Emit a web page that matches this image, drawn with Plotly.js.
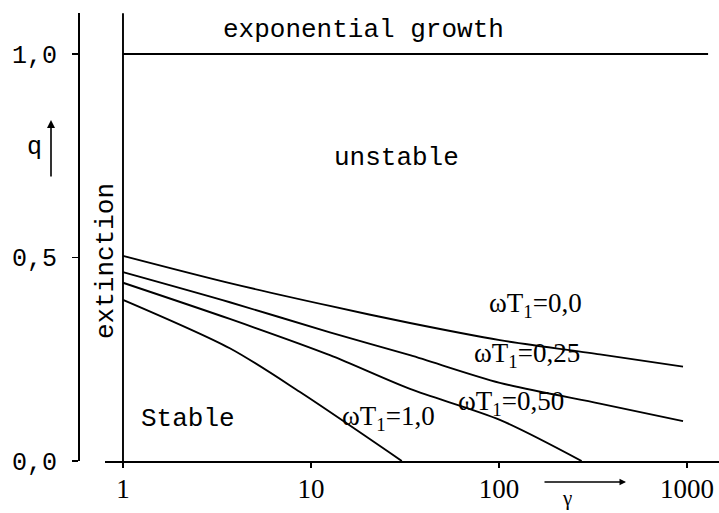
<!DOCTYPE html>
<html>
<head>
<meta charset="utf-8">
<script src="https://cdn.plot.ly/plotly-3.0.1.min.js"></script>
<style>html,body{margin:0;padding:0;background:#fff}#chart{width:719px;height:513px}</style>
</head>
<body>
<div id="chart"></div>
<script>
// ---- data ----
const gammaWT000 = [1, 3.7, 12.6, 33.6, 101, 344, 952];
const qWT000     = [0.504, 0.437, 0.381, 0.339, 0.297, 0.262, 0.232];

const gammaWT025 = [1, 3.7, 12.6, 33.6, 101, 344, 952];
const qWT025     = [0.464, 0.390, 0.316, 0.260, 0.192, 0.141, 0.098];

const gammaWT050 = [1, 3.7, 12.6, 33.6, 101, 275];
const qWT050     = [0.438, 0.349, 0.260, 0.177, 0.101, 0.0];

const gammaWT100 = [1, 3.7, 8.7, 30.4];
const qWT100     = [0.396, 0.277, 0.170, 0.0];

// region boundaries
const growthGamma = [1, 1294];
const growthQ     = [1, 1];
const extinctionGamma = [1, 1];
const extinctionQ     = [0, 1.1];

// ticks
const xTickVals = [1, 10, 100, 1000];
const xTickText = ['1', '10', '100', '1000'];
const yTickVals = [0, 0.5, 1.0];
const yTickText = ['0,0', '0,5', '1,0'];

const curveLabels = ['ωT<sub>1</sub>=0,0', 'ωT<sub>1</sub>=0,25', 'ωT<sub>1</sub>=0,50', 'ωT<sub>1</sub>=1,0'];

// ---- drawing ----
const W = 719, H = 513;
const mk = (x, y, w, smooth) => ({x: x, y: y, type: 'scatter', mode: 'lines',
  line: {color: '#000', width: w || 1.9, shape: smooth ? 'spline' : 'linear', smoothing: 0.8},
  hoverinfo: 'skip', showlegend: false});

const traces = [
  mk(gammaWT000, qWT000, 1.9, true),
  mk(gammaWT025, qWT025, 1.9, true),
  mk(gammaWT050, qWT050, 1.9, true),
  mk(gammaWT100, qWT100, 1.9, true),
  mk(growthGamma, growthQ, 1.9),
  mk(extinctionGamma, extinctionQ, 1.9)
];

function P(px, py) { return {x: px / W, y: (H - py) / H, xref: 'paper', yref: 'paper'}; }
const mono = {family: 'Liberation Mono, monospace', size: 26, color: '#000'};
const serif = {family: 'Liberation Serif, serif', size: 27, color: '#000'};

function txt(px, py, text, font, extra) {
  return Object.assign(P(px, py), {text: text, showarrow: false, font: font,
    xanchor: 'center', yanchor: 'middle'}, extra || {});
}

const annotations = [
  txt(363, 30, 'exponential growth', mono),
  txt(396, 158, 'unstable', mono),
  txt(188, 419, 'Stable', mono),
  txt(106, 261, 'extinction', mono, {textangle: -90}),
  txt(34, 147, 'q', {family: 'Liberation Mono, monospace', size: 25, color: '#000'}),
  txt(535, 305, curveLabels[0], serif),
  txt(527, 355, curveLabels[1], serif),
  txt(511, 403, curveLabels[2], serif),
  txt(389, 418, curveLabels[3], serif),
  txt(567, 498, 'γ', {family: 'Liberation Serif, serif', size: 21, color: '#000'}),
  Object.assign(P(51, 120), {text: '', showarrow: true, ax: 0, ay: 58, arrowhead: 2,
    arrowsize: 1, arrowwidth: 1.6, arrowcolor: '#000', standoff: 0}),
  Object.assign(P(626, 482), {text: '', showarrow: true, ax: -83, ay: 0, arrowhead: 2,
    arrowsize: 1, arrowwidth: 1.3, arrowcolor: '#000', standoff: 0})
];

const layout = {
  width: W, height: H,
  margin: {l: 0, r: 0, t: 0, b: 0},
  paper_bgcolor: '#fff', plot_bgcolor: '#fff',
  showlegend: false,
  xaxis: {
    type: 'log', range: [-0.0957, 3.170], domain: [105 / W, 1],
    showline: true, linecolor: '#000', linewidth: 2,
    ticks: 'outside', ticklen: 5, tickwidth: 1.5, tickcolor: '#000',
    tickvals: xTickVals, ticktext: xTickText,
    tickfont: {family: 'Liberation Serif, serif', size: 27, color: '#000'},
    ticklabelstandoff: -2,
    showgrid: false, zeroline: false, anchor: 'y', fixedrange: true
  },
  yaxis: {
    range: [0, 1.1007], domain: [52 / H, 500 / H],
    anchor: 'free', position: 78 / W,
    showline: true, linecolor: '#000', linewidth: 1.6,
    ticks: 'outside', ticklen: 6, tickwidth: 1.6, tickcolor: '#000',
    tickvals: yTickVals, ticktext: yTickText,
    tickfont: {family: 'Liberation Mono, monospace', size: 25, color: '#000'},
    ticklabelstandoff: 10,
    showgrid: false, zeroline: false, fixedrange: true
  },
  annotations: annotations
};

Plotly.newPlot('chart', traces, layout, {staticPlot: true, displayModeBar: false});
</script>
</body>
</html>
